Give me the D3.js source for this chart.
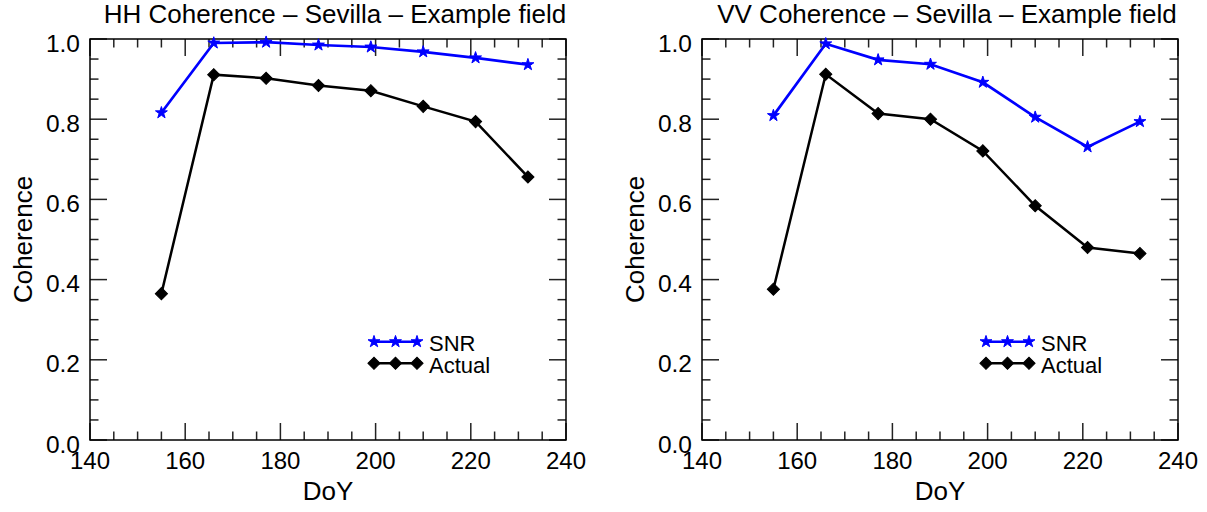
<!DOCTYPE html>
<html>
<head>
<meta charset="utf-8">
<script src="https://cdn.jsdelivr.net/npm/d3@7"></script>
<style>
  body { margin: 0; background: #fff; }
  svg { display: block; font-family: "Liberation Sans", Arial, Helvetica, sans-serif; }
</style>
</head>
<body>
<svg id="chart" width="1207" height="512"></svg>
<script>
// Day of year for each acquisition
const doy = [155, 166, 177, 188, 199, 210, 221, 232];

// Coherence values
const hhSnr = [0.816, 0.990, 0.992, 0.985, 0.980, 0.968, 0.953, 0.936];
const hhActual = [0.365, 0.911, 0.902, 0.884, 0.871, 0.832, 0.794, 0.656];
const vvSnr = [0.809, 0.988, 0.948, 0.937, 0.892, 0.805, 0.731, 0.794];
const vvActual = [0.376, 0.912, 0.814, 0.800, 0.721, 0.584, 0.480, 0.465];

const xTicks = [140, 160, 180, 200, 220, 240];
const yTicks = [0.0, 0.2, 0.4, 0.6, 0.8, 1.0];
const legendLabels = ["SNR", "Actual"];

const panels = [
  { title: "HH Coherence \u2013 Sevilla \u2013 Example field", left: 90, snr: hhSnr, actual: hhActual },
  { title: "VV Coherence \u2013 Sevilla \u2013 Example field", left: 702, snr: vvSnr, actual: vvActual },
];

const svg = d3.select("#chart");
const plotTop = 39, plotBottom = 440, plotW = 476;
const majorLen = 17, minorLen = 8.5;
const tickColor = "#222";

const star = d3.symbol(d3.symbolStar, 44);
const diamond = d3.symbol(d3.symbolSquare, 74);

function drawMarkers(g, pts, kind) {
  g.selectAll(null)
    .data(pts)
    .enter()
    .append("path")
    .attr("transform", (d) =>
      kind === "star" ? `translate(${d[0]},${d[1]})` : `translate(${d[0]},${d[1]}) rotate(45)`)
    .attr("d", kind === "star" ? star : diamond)
    .attr("fill", kind === "star" ? "#0000ff" : "#000")
    .attr("stroke", kind === "star" ? "#0000ff" : "#000")
    .attr("stroke-width", 1);
}

panels.forEach((p) => {
  const x = d3.scaleLinear().domain([140, 240]).range([p.left, p.left + plotW]);
  const y = d3.scaleLinear().domain([0, 1]).range([plotBottom, plotTop]);
  const g = svg.append("g");

  // minor + major ticks on all four sides, pointing inward
  const xMinor = d3.range(140, 240.1, 5).filter((v) => v % 20 !== 0);
  const yMinor = d3.range(0, 1.001, 0.05).filter((v) => Math.round(v * 100) % 20 !== 0);

  const ticks = g.append("g").attr("stroke", tickColor).attr("stroke-width", 1.5);
  xTicks.concat(xMinor).forEach((v) => {
    const len = xTicks.includes(v) ? majorLen : minorLen;
    ticks.append("line").attr("x1", x(v)).attr("x2", x(v)).attr("y1", plotBottom).attr("y2", plotBottom - len);
    ticks.append("line").attr("x1", x(v)).attr("x2", x(v)).attr("y1", plotTop).attr("y2", plotTop + len);
  });
  yTicks.concat(yMinor).forEach((v) => {
    const len = yTicks.some((t) => Math.abs(t - v) < 1e-6) ? majorLen : minorLen;
    ticks.append("line").attr("x1", x(140)).attr("x2", x(140) + len).attr("y1", y(v)).attr("y2", y(v));
    ticks.append("line").attr("x1", x(240)).attr("x2", x(240) - len).attr("y1", y(v)).attr("y2", y(v));
  });

  // plot box
  g.append("rect")
    .attr("x", x(140)).attr("y", plotTop)
    .attr("width", plotW).attr("height", plotBottom - plotTop)
    .attr("fill", "none").attr("stroke", "#000").attr("stroke-width", 1.5);

  // tick labels
  g.selectAll(null).data(xTicks).enter().append("text")
    .attr("x", (d) => x(d)).attr("y", plotBottom + 29)
    .attr("text-anchor", "middle").attr("font-size", 24)
    .text((d) => d);
  g.selectAll(null).data(yTicks).enter().append("text")
    .attr("x", x(140) - 10).attr("y", (d) => y(d) + 12.5)
    .attr("text-anchor", "end").attr("font-size", 24.5)
    .text((d) => d.toFixed(1));

  // titles
  g.append("text")
    .attr("x", p.left + plotW / 2 + 7).attr("y", 23)
    .attr("text-anchor", "middle").attr("font-size", 26)
    .text(p.title);
  g.append("text")
    .attr("x", p.left + plotW / 2).attr("y", 500)
    .attr("text-anchor", "middle").attr("font-size", 26)
    .text("DoY");
  g.append("text")
    .attr("transform", `translate(${p.left - 58.5},${(plotTop + plotBottom) / 2}) rotate(-90)`)
    .attr("text-anchor", "middle").attr("font-size", 26)
    .text("Coherence");

  // series
  const line = d3.line().x((d) => x(d[0])).y((d) => y(d[1]));
  const snrPts = doy.map((d, i) => [d, p.snr[i]]);
  const actPts = doy.map((d, i) => [d, p.actual[i]]);

  g.append("path").datum(snrPts).attr("d", line)
    .attr("fill", "none").attr("stroke", "#0000ff").attr("stroke-width", 2.7);
  g.append("path").datum(actPts).attr("d", line)
    .attr("fill", "none").attr("stroke", "#000").attr("stroke-width", 2.5);
  drawMarkers(g, snrPts.map((d) => [x(d[0]), y(d[1])]), "star");
  drawMarkers(g, actPts.map((d) => [x(d[0]), y(d[1])]), "diamond");

  // legend
  const lx = p.left + 284, lGap = 21.5;
  [["star", "#0000ff", 341.7], ["diamond", "#000", 363.3]].forEach(([kind, col, ly], i) => {
    g.append("line")
      .attr("x1", lx).attr("x2", lx + 2 * lGap).attr("y1", ly).attr("y2", ly)
      .attr("stroke", col).attr("stroke-width", 2.5);
    drawMarkers(g, [0, 1, 2].map((k) => [lx + k * lGap, ly]), kind);
    g.append("text")
      .attr("x", p.left + 339).attr("y", ly + 9.5)
      .attr("font-size", 22)
      .text(legendLabels[i]);
  });
});
</script>
</body>
</html>
